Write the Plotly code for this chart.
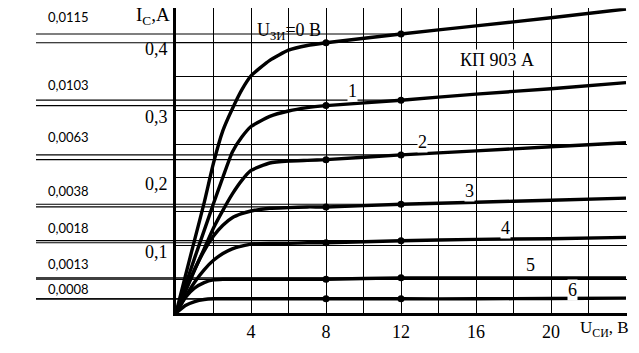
import plotly.graph_objects as go

# ---------------- data ----------------
u_si = [0, 0.5, 1, 1.5, 2, 2.5, 3, 3.5, 4, 5, 6, 7, 8, 12, 16, 20, 24]

ic_0 = [0, 0.055, 0.109, 0.163, 0.222, 0.270, 0.302, 0.330, 0.351, 0.374, 0.389, 0.396, 0.400, 0.413, 0.425, 0.437, 0.450]
ic_1 = [0, 0.041, 0.082, 0.122, 0.162, 0.201, 0.238, 0.260, 0.276, 0.291, 0.299, 0.304, 0.307, 0.315, 0.324, 0.332, 0.341]
ic_2 = [0, 0.032, 0.064, 0.095, 0.126, 0.152, 0.176, 0.196, 0.211, 0.222, 0.225, 0.226, 0.227, 0.234, 0.240, 0.246, 0.252]
ic_3 = [0, 0.033, 0.065, 0.092, 0.114, 0.130, 0.141, 0.147, 0.151, 0.155, 0.156, 0.157, 0.157, 0.161, 0.164, 0.167, 0.170]
ic_4 = [0, 0.024, 0.046, 0.064, 0.078, 0.088, 0.095, 0.099, 0.102, 0.103, 0.103, 0.104, 0.104, 0.107, 0.109, 0.110, 0.112]
ic_5 = [0, 0.023, 0.037, 0.045, 0.049, 0.050, 0.050, 0.050, 0.050, 0.050, 0.050, 0.050, 0.050, 0.052, 0.052, 0.052, 0.052]
ic_6 = [0, 0.011, 0.017, 0.020, 0.021, 0.021, 0.021, 0.021, 0.021, 0.021, 0.021, 0.021, 0.021, 0.021, 0.021, 0.0215, 0.022]

curves = [ic_0, ic_1, ic_2, ic_3, ic_4, ic_5, ic_6]
curve_names = ["U<sub>ЗИ</sub>=0 В", "1", "2", "3", "4", "5", "6"]
dot_u = [8, 12]
slope_labels = ["0,0115", "0,0103", "0,0063", "0,0038", "0,0018", "0,0013", "0,0008"]

x_tick_vals = [2, 4, 6, 8, 10, 12, 14, 16, 18, 20, 22, 24]
x_tick_text = ["", "4", "", "8", "", "12", "", "16", "", "20", "", ""]
y_tick_vals = [0.05, 0.1, 0.15, 0.2, 0.25, 0.3, 0.35, 0.4, 0.45]
y_tick_text = ["", "0,1", "", "0,2", "", "0,3", "", "0,4", ""]

# ---------------- layout geometry ----------------
W, H = 639, 353
PL, PR, PT, PB = 176, 626, 9, 313
REF_LEFT = 36
XMAX, YMAX = 24.03, 0.451
xscale = (PR - PL) / 24.0
x2min = -(PL - REF_LEFT) / xscale
xr_px = PL + XMAX * xscale

dom_x = [PL / W, xr_px / W]
dom_x2 = [REF_LEFT / W, xr_px / W]
yscale = (PB - PT) / 0.45
ytop_px = PB - YMAX * yscale
dom_y = [1 - PB / H, 1 - ytop_px / H]

SERIF = "Liberation Serif"

fig = go.Figure()

def val_at(curve, u):
    return curve[u_si.index(u)]

# reference lines from the left margin to the dots (second, wider subplot)
for c in curves:
    for u in dot_u:
        v = val_at(c, u)
        fig.add_trace(go.Scatter(x=[x2min, u], y=[v, v], mode="lines",
                                 line=dict(color="black", width=1.2),
                                 xaxis="x2", yaxis="y2", hoverinfo="skip",
                                 showlegend=False))

# characteristic curves
for c in curves:
    fig.add_trace(go.Scatter(x=u_si, y=c, mode="lines",
                             line=dict(color="black", width=3.4, shape="spline", smoothing=0.5),
                             showlegend=False, hoverinfo="skip"))
    fig.add_trace(go.Scatter(x=dot_u, y=[val_at(c, u) for u in dot_u], mode="markers",
                             marker=dict(color="black", size=7),
                             showlegend=False, hoverinfo="skip"))

annotations = []
# curve labels
label_pos = [(6.03, 0.416), (9.42, 0.328), (13.17, 0.253), (15.63, 0.180),
             (17.55, 0.126), (18.93, 0.071), (21.17, 0.034)]
for name, (lx, ly) in zip(curve_names, label_pos):
    annotations.append(dict(x=lx, y=ly, xref="x", yref="y", text=name, showarrow=False,
                            xanchor="center", yanchor="middle",
                            font=dict(family=SERIF, size=18, color="black"),
                            bgcolor="white" if name != curve_names[0] else "rgba(0,0,0,0)",
                            borderpad=0))
annotations.append(dict(x=17.12, y=0.375, xref="x", yref="y", text="КП 903 А", showarrow=False,
                        xanchor="center", yanchor="middle",
                        font=dict(family=SERIF, size=18, color="black"), bgcolor="white", borderpad=0))

# slope labels above the reference line pairs
label_shift = [17, 15, 18, 13, 13, 14, 10]
for txt, c, sh in zip(slope_labels, curves, label_shift):
    annotations.append(dict(x=(68 - PL) / xscale, y=val_at(c, 12), xref="x2", yref="y2",
                            text=txt, showarrow=False, yshift=sh,
                            xanchor="center", yanchor="middle",
                            font=dict(family="Lato", size=13, color="black")))

# axis titles
annotations.append(dict(x=153 / W, y=1 - 16 / H, xref="paper", yref="paper",
                        text="I<sub>C</sub>,A", showarrow=False,
                        xanchor="center", yanchor="middle",
                        font=dict(family=SERIF, size=19, color="black")))
annotations.append(dict(x=604 / W, y=1 - 329 / H, xref="paper", yref="paper",
                        text="U<sub>СИ</sub>, В", showarrow=False,
                        xanchor="center", yanchor="middle",
                        font=dict(family=SERIF, size=17, color="black")))

fig.update_layout(
    width=W, height=H,
    margin=dict(l=0, r=0, t=0, b=0),
    paper_bgcolor="white",
    plot_bgcolor="rgba(0,0,0,0)",
    showlegend=False,
    annotations=annotations,
    xaxis=dict(domain=dom_x, range=[0, XMAX], anchor="y",
               tickmode="array", tickvals=x_tick_vals, ticktext=x_tick_text,
               showgrid=True, gridcolor="black", gridwidth=1,
               zeroline=False, showline=True, linecolor="black", linewidth=3,
               ticks="", tickfont=dict(family=SERIF, size=18, color="black"),
               ticklabelstandoff=0),
    yaxis=dict(domain=dom_y, range=[0, YMAX], anchor="x",
               tickmode="array", tickvals=y_tick_vals, ticktext=y_tick_text,
               showgrid=True, gridcolor="black", gridwidth=1,
               zeroline=False, showline=True, linecolor="black", linewidth=3,
               ticks="", tickfont=dict(family=SERIF, size=18, color="black"),
               ticklabelshift=6, ticklabelstandoff=2),
    xaxis2=dict(domain=dom_x2, range=[x2min, XMAX], anchor="y2", visible=False,
                showgrid=False, zeroline=False),
    yaxis2=dict(domain=dom_y, range=[0, YMAX], anchor="x2", visible=False,
                showgrid=False, zeroline=False),
)

fig.write_html("out.html")
